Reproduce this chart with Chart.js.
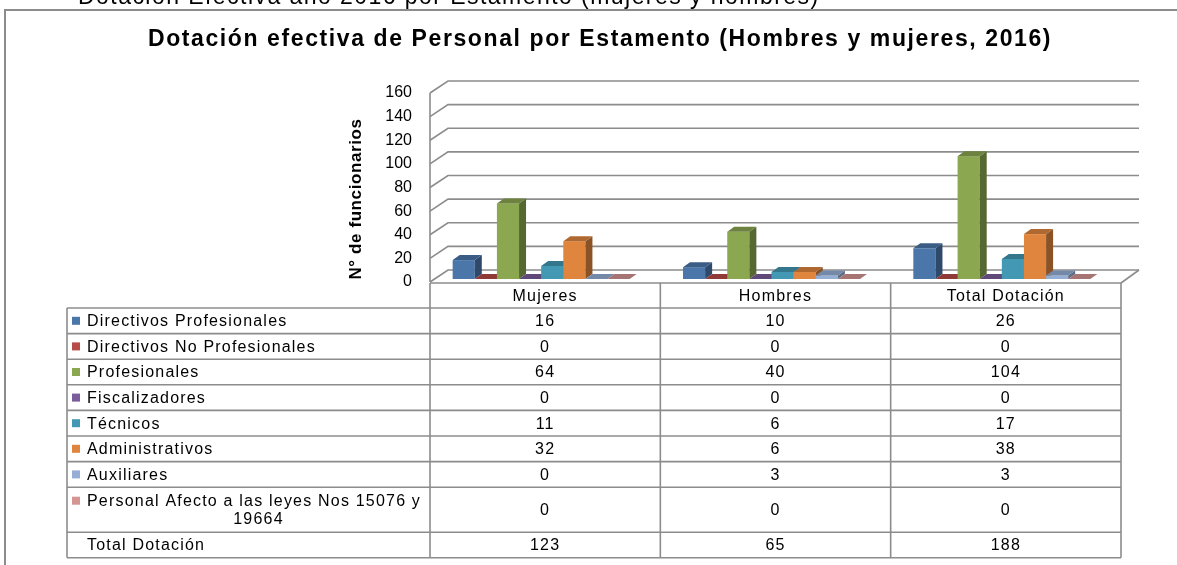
<!DOCTYPE html>
<html lang="es">
<head>
<meta charset="utf-8">
<title>Dotación efectiva de Personal por Estamento</title>
<script src="https://cdn.jsdelivr.net/npm/chart.js@4/dist/chart.umd.min.js"></script>
<style>
    html, body { margin: 0; padding: 0; background: #fff; }
    #chartDotacion { display: block; }
</style>
</head>
<body>
<canvas id="chartDotacion" width="1177" height="565"></canvas>
<script>
// Datos
const categorias = ['Mujeres', 'Hombres', 'Total Dotación'];
const estamentos = [
    'Directivos Profesionales',
    'Directivos No Profesionales',
    'Profesionales',
    'Fiscalizadores',
    'Técnicos',
    'Administrativos',
    'Auxiliares',
    ['Personal Afecto a las leyes Nos 15076 y', '19664']
];
const directivosProfesionales = [16, 10, 26];
const directivosNoProfesionales = [0, 0, 0];
const profesionales = [64, 40, 104];
const fiscalizadores = [0, 0, 0];
const tecnicos = [11, 6, 17];
const administrativos = [32, 6, 38];
const auxiliares = [0, 3, 3];
const personalLeyes = [0, 0, 0];
const totalDotacion = [123, 65, 188];
const ticksY = { min: 0, max: 160, paso: 20 };

const valoresSeries = [
    directivosProfesionales, directivosNoProfesionales, profesionales, fiscalizadores,
    tecnicos, administrativos, auxiliares, personalLeyes
];
const colores = ['#4A76AA', '#B84A47', '#8BA750', '#7B5D9B', '#4399B3', '#E0853D', '#95AED6', '#D59593'];

const FUENTE = '"Liberation Sans", Arial, sans-serif';
const LINEA = '#8c8c8c';
const DESPLAZAMIENTO = 4;          // frente del piso respecto al área del gráfico
const PARED_X = 18, PARED_Y = -12; // profundidad de paredes y piso
const PROF_X = 7, PROF_Y = -5;     // profundidad de cada barra
const ELEVACION = 3;               // las barras se apoyan a media profundidad
const TABLA_IZQ = 67;
const ALTO_FILA = 25.6;
const ALTO_FILA_DOBLE = 45;

function oscurecer(hex, f) {
    const n = parseInt(hex.slice(1), 16);
    const r = Math.round(((n >> 16) & 255) * f);
    const g = Math.round(((n >> 8) & 255) * f);
    const b = Math.round((n & 255) * f);
    return `rgb(${r}, ${g}, ${b})`;
}

function poligono(ctx, puntos, color) {
    ctx.fillStyle = color;
    ctx.beginPath();
    ctx.moveTo(puntos[0][0], puntos[0][1]);
    puntos.slice(1).forEach(p => ctx.lineTo(p[0], p[1]));
    ctx.closePath();
    ctx.fill();
}

function linea(ctx, x1, y1, x2, y2) {
    ctx.beginPath();
    ctx.moveTo(x1, y1);
    ctx.lineTo(x2, y2);
    ctx.stroke();
}

function dibujarParedes(chart) {
    const { ctx, chartArea, scales: { y } } = chart;
    const x0 = chartArea.left + DESPLAZAMIENTO;
    const x1 = chartArea.right + DESPLAZAMIENTO;
    ctx.save();
    ctx.strokeStyle = LINEA;
    ctx.lineWidth = 1.6;
    y.ticks.forEach(t => {
        const py = y.getPixelForValue(t.value);
        ctx.beginPath();
        ctx.moveTo(x0, py);
        ctx.lineTo(x0 + PARED_X, py + PARED_Y);
        ctx.lineTo(x1 + PARED_X, py + PARED_Y);
        ctx.stroke();
    });
    const base = y.getPixelForValue(0);
    // borde derecho del piso
    linea(ctx, x1, base + 1, x1 + PARED_X, base + PARED_Y);
    // eje vertical
    linea(ctx, x0, y.getPixelForValue(ticksY.max), x0, base);
    ctx.restore();
}

function dibujarBarras(chart) {
    const { ctx } = chart;
    ctx.save();
    chart.data.datasets.forEach((ds, i) => {
        const meta = chart.getDatasetMeta(i);
        const color = colores[i];
        meta.data.forEach(barra => {
            const { x, y, base, width } = barra.getProps(['x', 'y', 'base', 'width'], true);
            const izq = x - width / 2;
            const der = x + width / 2;
            const arriba = y - ELEVACION;
            const abajo = base - ELEVACION;
            ctx.fillStyle = color;
            ctx.fillRect(izq, arriba, width, abajo - arriba);
            poligono(ctx, [[der, arriba], [der + PROF_X, arriba + PROF_Y], [der + PROF_X, abajo + PROF_Y], [der, abajo]], oscurecer(color, 0.62));
            poligono(ctx, [[izq, arriba], [izq + PROF_X, arriba + PROF_Y], [der + PROF_X, arriba + PROF_Y], [der, arriba]], oscurecer(color, 0.78));
        });
    });
    ctx.restore();
}

function dibujarTabla(chart) {
    const { ctx, chartArea, scales: { y } } = chart;
    const anchoCat = (chartArea.right - chartArea.left) / categorias.length;
    const cols = [TABLA_IZQ];
    for (let i = 0; i <= categorias.length; i++) {
        cols.push(chartArea.left + DESPLAZAMIENTO + i * anchoCat);
    }
    const top = y.getPixelForValue(0) + 1;
    const filas = [top, top + 25];
    estamentos.forEach(e => {
        const alto = Array.isArray(e) ? ALTO_FILA_DOBLE : ALTO_FILA;
        filas.push(filas[filas.length - 1] + alto);
    });
    filas.push(filas[filas.length - 1] + ALTO_FILA);
    const fondo = filas[filas.length - 1];

    ctx.save();
    ctx.strokeStyle = LINEA;
    ctx.lineWidth = 1.6;
    // cabecera
    linea(ctx, cols[1], filas[0], cols[cols.length - 1], filas[0]);
    filas.slice(1).forEach(f => linea(ctx, cols[0], f, cols[cols.length - 1], f));
    cols.forEach((c, i) => linea(ctx, c, i === 0 ? filas[1] : filas[0], c, fondo));

    ctx.fillStyle = '#000';
    ctx.font = `16px ${FUENTE}`;
    ctx.letterSpacing = '1.2px';
    ctx.textBaseline = 'middle';
    ctx.textAlign = 'center';
    const centro = i => (cols[i + 1] + cols[i + 2]) / 2;
    categorias.forEach((c, i) => ctx.fillText(c, centro(i), (filas[0] + filas[1]) / 2 + 1));

    const filasTexto = estamentos.map((e, k) => ({ etiqueta: e, valores: valoresSeries[k], color: colores[k] }));
    filasTexto.push({ etiqueta: 'Total Dotación', valores: totalDotacion, color: null });

    filasTexto.forEach((fila, k) => {
        const yA = filas[k + 1];
        const yB = filas[k + 2];
        const yc = (yA + yB) / 2 + 1;
        const lineas = Array.isArray(fila.etiqueta) ? fila.etiqueta : [fila.etiqueta];
        const y1 = lineas.length > 1 ? yc - 9 : yc;
        if (fila.color) {
            ctx.fillStyle = fila.color;
            ctx.fillRect(cols[0] + 5, y1 - 5, 8, 8);
        }
        ctx.fillStyle = '#000';
        ctx.textAlign = 'left';
        ctx.fillText(lineas[0], cols[0] + 20, y1);
        if (lineas.length > 1) {
            ctx.textAlign = 'center';
            ctx.fillText(lineas[1], (cols[0] + 20 + cols[1]) / 2, yc + 9);
        }
        ctx.textAlign = 'center';
        fila.valores.forEach((v, i) => ctx.fillText(String(v), centro(i), yc));
    });
    ctx.restore();
}

function dibujarTitulos(chart) {
    const { ctx } = chart;
    ctx.save();
    ctx.fillStyle = '#000';
    // texto del documento, cortado por el borde superior
    ctx.font = `23px ${FUENTE}`;
    ctx.letterSpacing = '1.45px';
    ctx.textAlign = 'left';
    ctx.textBaseline = 'alphabetic';
    ctx.fillText('Dotación Efectiva año 2016 por Estamento (mujeres y hombres)', 78, 4);

    ctx.strokeStyle = LINEA;
    ctx.lineWidth = 2;
    ctx.strokeRect(5, 10, 1200, 600);

    ctx.font = `bold 23px ${FUENTE}`;
    ctx.letterSpacing = '1.6px';
    ctx.textAlign = 'center';
    ctx.fillText('Dotación efectiva de Personal por Estamento (Hombres y mujeres, 2016)', 600, 46);

    // título del eje Y
    ctx.translate(356, 199);
    ctx.rotate(-Math.PI / 2);
    ctx.font = `bold 17px ${FUENTE}`;
    ctx.letterSpacing = '0.6px';
    ctx.textBaseline = 'middle';
    ctx.fillText('N° de funcionarios', 0, 0);
    ctx.restore();
}

const plugin3D = {
    id: 'barras3d',
    beforeDatasetsDraw: chart => dibujarParedes(chart),
    afterDatasetsDraw: chart => dibujarBarras(chart),
    afterDraw: chart => {
        dibujarTabla(chart);
        dibujarTitulos(chart);
    }
};

Chart.defaults.font.family = FUENTE;

const ctx = document.getElementById('chartDotacion').getContext('2d');
new Chart(ctx, {
    type: 'bar',
    data: {
        labels: categorias,
        datasets: valoresSeries.map((valores, i) => ({
            label: Array.isArray(estamentos[i]) ? estamentos[i].join(' ') : estamentos[i],
            data: valores,
            backgroundColor: 'rgba(0, 0, 0, 0)',
            borderWidth: 0,
            categoryPercentage: 0.7685,
            barPercentage: 1
        }))
    },
    options: {
        responsive: false,
        animation: false,
        devicePixelRatio: 1,
        layout: { padding: { left: 345, right: 60, top: 93, bottom: 283 } },
        plugins: {
            legend: { display: false },
            title: { display: false },
            tooltip: { enabled: false }
        },
        scales: {
            x: { display: false },
            y: {
                min: ticksY.min,
                max: ticksY.max,
                ticks: { stepSize: ticksY.paso, color: '#000', font: { size: 16 }, padding: 14 },
                grid: { display: false, drawTicks: false },
                border: { display: false },
                afterFit: axis => { axis.width = 81; }
            }
        }
    },
    plugins: [plugin3D]
});
</script>
</body>
</html>
